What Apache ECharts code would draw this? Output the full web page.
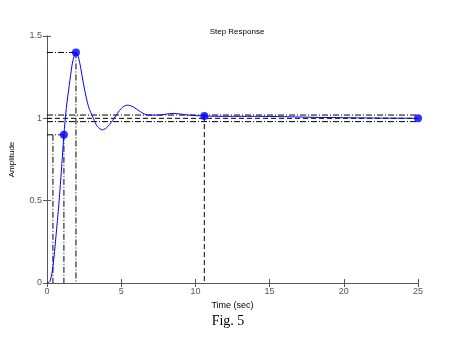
<!DOCTYPE html>
<html><head><meta charset="utf-8">
<script src="https://cdn.jsdelivr.net/npm/echarts@6/dist/echarts.min.js"></script>
<style>html,body{margin:0;padding:0;background:#fff}#c{width:456px;height:355px}</style>
</head><body><div id="c"></div>
<script>
var timeSec = [0, 0.2, 0.4, 0.6, 0.8, 1.0, 1.14, 1.3, 1.5, 1.7, 1.85, 1.95, 2.05, 2.2, 2.5, 2.8, 3.13, 3.4, 3.74, 4.1, 4.52, 5.0, 5.4, 5.8, 6.3, 6.8, 7.5, 8.5, 9.5, 10.6, 12, 14, 16, 18, 20, 22, 25];
var amplitude = [0, 0.01, 0.1, 0.28, 0.48, 0.72, 0.9, 1.06, 1.2, 1.33, 1.385, 1.4, 1.39, 1.34, 1.19, 1.07, 1.0, 0.95, 0.93, 0.95, 1.0, 1.06, 1.08, 1.07, 1.04, 1.02, 1.02, 1.03, 1.02, 1.014, 1.012, 1.012, 1.01, 1.006, 1.004, 1.002, 1.0];
var riseStart = 0.4, riseEnd = 1.14, riseLevel = 0.9;
var peakTime = 1.95, peakValue = 1.4;
var settleTime = 10.6, settleValue = 1.014;
var finalTime = 25, finalValue = 1.0;
var bandLow = 0.98, bandHigh = 1.02;
var xTicks = [0, 5, 10, 15, 20, 25];
var yTicks = [0, 0.5, 1, 1.5];

var curve = timeSec.map(function(t, i){ return [t, amplitude[i]]; });
var dots = [[riseEnd, riseLevel], [peakTime, peakValue], [settleTime, settleValue], [finalTime, finalValue]];
var dashDot = [6, 2, 1, 2];
var dashed = [5, 3];
function guide(pts, type){
  return {type:'line', data:pts, symbol:'none', silent:true, z:1,
    lineStyle:{color:'#000', width:1, type:type}};
}
var axisCol = '#5a5560';
var chart = echarts.init(document.getElementById('c'), null, {renderer:'canvas'});
chart.setOption({
  animation:false,
  title:{text:'Step Response', left:232, top:23, textAlign:'center',
    textStyle:{fontFamily:'Liberation Sans, Arial', fontSize:8, fontWeight:'normal', color:'#000'}},
  grid:{left:46, right:38, top:36, bottom:72},
  xAxis:[
    {type:'value', min:0, max:25, interval:5, position:'bottom',
     name:'Time (sec)', nameLocation:'middle', nameGap:16,
     nameTextStyle:{fontFamily:'Liberation Sans, Arial', fontSize:9, color:'#000'},
     axisLine:{lineStyle:{color:axisCol}}, axisTick:{inside:true, length:4, lineStyle:{color:axisCol}},
     axisLabel:{fontFamily:'Liberation Sans, Arial', fontSize:9, color:'#555', margin:4,
       formatter:function(v){ return xTicks.indexOf(v) >= 0 ? String(v) : ''; }},
     splitLine:{show:false}},
    {type:'value', min:0, max:25, interval:5, position:'top',
     axisLine:{lineStyle:{color:axisCol}}, axisTick:{inside:true, length:4, lineStyle:{color:axisCol}},
     axisLabel:{show:false}, splitLine:{show:false}}
  ],
  yAxis:[
    {type:'value', min:0, max:1.5, interval:0.5, position:'left',
     name:'Amplitude', nameLocation:'middle', nameGap:31,
     nameTextStyle:{fontFamily:'Liberation Sans, Arial', fontSize:8, color:'#000'},
     axisLine:{lineStyle:{color:axisCol}}, axisTick:{inside:true, length:4, lineStyle:{color:axisCol}},
     axisLabel:{fontFamily:'Liberation Sans, Arial', fontSize:9, color:'#555', margin:5,
       formatter:function(v){ return yTicks.indexOf(v) >= 0 ? String(v) : ''; }},
     splitLine:{show:false}},
    {type:'value', min:0, max:1.5, interval:0.5, position:'right',
     axisLine:{lineStyle:{color:axisCol}}, axisTick:{inside:true, length:4, lineStyle:{color:axisCol}},
     axisLabel:{show:false}, splitLine:{show:false}}
  ],
  series:[
    guide([[0, bandHigh],[25, bandHigh]], dashDot),
    guide([[0, finalValue],[25, finalValue]], dashed),
    guide([[0, bandLow],[25, bandLow]], dashDot),
    guide([[0, riseLevel],[riseEnd, riseLevel]], dashDot),
    guide([[riseStart, riseLevel],[riseStart, 0]], dashDot),
    guide([[riseEnd, riseLevel],[riseEnd, 0]], dashDot),
    guide([[0, peakValue],[peakTime, peakValue]], dashDot),
    guide([[peakTime, peakValue],[peakTime, 0]], dashDot),
    guide([[settleTime, settleValue],[settleTime, 0]], dashed),
    {type:'line', data:curve, smooth:0.3, symbol:'none', z:3,
     lineStyle:{color:'#0000ff', width:1}},
    {type:'scatter', data:dots, symbol:'circle', symbolSize:8, z:4,
     itemStyle:{color:'#0000ff'}}
  ],
  graphic:[{type:'text', left:'center', top:314, style:{text:'Fig. 5',
    font:'14px "Liberation Serif", "Times New Roman", serif', fill:'#000'}}]
});
</script></body></html>
